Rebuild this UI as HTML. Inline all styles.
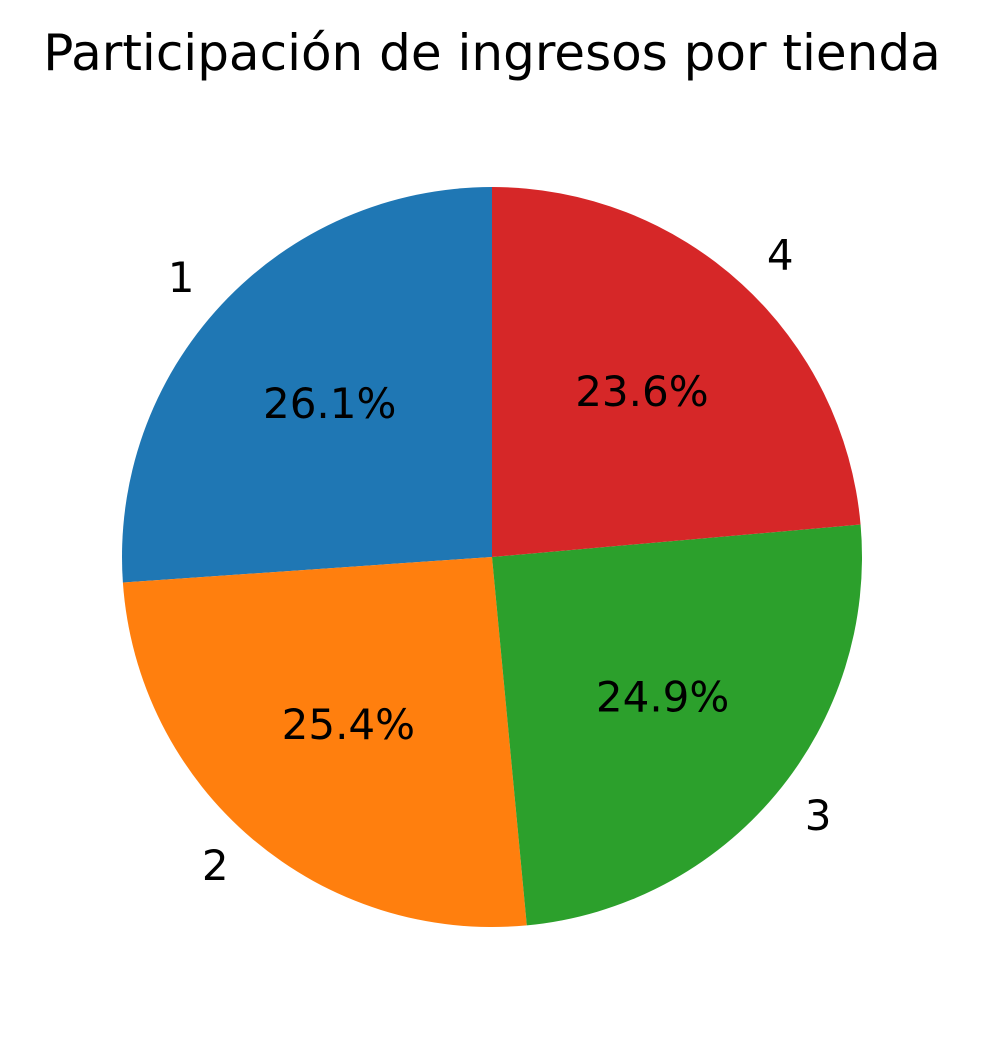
<!DOCTYPE html>
<html><head><meta charset="utf-8"><style>
html,body{margin:0;padding:0;background:#fff;}
svg{display:block;font-family:"DejaVu Sans","Liberation Sans",sans-serif;}
</style></head><body>
<svg id="chart" width="983" height="1049" viewBox="0 0 983 1049">
<text x="492" y="70" text-anchor="middle" font-size="50" fill="#000">Participación de ingresos por tienda</text>
<g id="slices"></g>
</svg>
<script>
const categories = ["1","2","3","4"];
const values = [26.1, 25.4, 24.9, 23.6];
const pctLabels = ["26.1%","25.4%","24.9%","23.6%"];
const colors = ["#1f77b4","#ff7f0e","#2ca02c","#d62728"];
const cx = 492, cy = 557, r = 370;
const ns = "http://www.w3.org/2000/svg";
const g = document.getElementById("slices");
const total = values.reduce((a,b)=>a+b,0);
let ang = 90;
function pt(a, rad){ const t=a*Math.PI/180; return [cx+rad*Math.cos(t), cy-rad*Math.sin(t)]; }
values.forEach((v,i)=>{
  const sweep = v/total*360;
  const a0 = ang, a1 = ang+sweep;
  const p0 = pt(a0,r), p1 = pt(a1,r);
  const path = document.createElementNS(ns,"path");
  path.setAttribute("d",`M${cx},${cy} L${p0[0]},${p0[1]} A${r},${r} 0 ${sweep>180?1:0} 0 ${p1[0]},${p1[1]} Z`);
  path.setAttribute("fill",colors[i]);
  
  
  g.appendChild(path);
  const mid = (a0+a1)/2;
  const lp = pt(mid, r*1.1);
  const lt = document.createElementNS(ns,"text");
  lt.setAttribute("x",lp[0]); lt.setAttribute("y",lp[1]-2);
  lt.setAttribute("text-anchor", Math.cos(mid*Math.PI/180)<0?"end":"start");
  lt.setAttribute("dominant-baseline","central");
  lt.setAttribute("font-size","42");
  lt.textContent = categories[i];
  
  
  g.appendChild(lt);
  const pp = pt(mid, r*0.6);
  const pt2 = document.createElementNS(ns,"text");
  pt2.setAttribute("x",pp[0]); pt2.setAttribute("y",pp[1]-2);
  pt2.setAttribute("text-anchor","middle");
  pt2.setAttribute("dominant-baseline","central");
  pt2.setAttribute("font-size","42");
  pt2.textContent = pctLabels[i];
  
  
  g.appendChild(pt2);
  ang = a1;
});
</script>
</body></html>
